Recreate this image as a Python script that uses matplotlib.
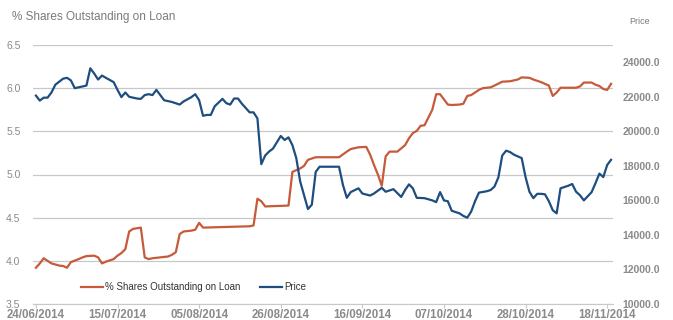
import numpy as np
import matplotlib
matplotlib.use("Agg")
import matplotlib.pyplot as plt
import matplotlib.dates as mdates
from matplotlib.ticker import FormatStrFormatter

plt.rcParams['font.family'] = ['Liberation Sans', 'DejaVu Sans']

start = np.datetime64('2014-06-24')

# % of shares outstanding on loan (left axis), days counted from 24/06/2014
loan_days = [0, 1, 2, 3, 4, 6, 7, 8, 9, 11, 12, 13, 15, 16, 17, 18, 20, 21, 22, 23,
             24, 25, 27, 28, 29, 30, 32, 34, 35, 36, 37, 38, 40, 41, 42, 43, 55, 56, 57, 58,
             59, 65, 66, 67, 68, 69, 70, 72, 78, 80, 81, 83, 85, 86, 87, 88, 89, 90, 91, 93,
             95, 96, 97, 98, 99, 100, 102, 103, 104, 106, 107, 109, 110, 111, 112, 114, 115, 117, 118, 120,
             122, 124, 125, 127, 128, 130, 132, 133, 134, 135, 139, 140, 141, 143, 144, 145, 146, 147, 148]
loan_pct = [3.92, 3.97, 4.03, 4.00, 3.97, 3.945, 3.94, 3.92, 3.985, 4.02, 4.04, 4.055, 4.06, 4.04, 3.97, 3.99, 4.02, 4.06, 4.09, 4.135,
            4.34, 4.37, 4.385, 4.04, 4.02, 4.03, 4.04, 4.05, 4.07, 4.10, 4.31, 4.34, 4.35, 4.36, 4.44, 4.385, 4.40, 4.41, 4.72, 4.69,
            4.63, 4.64, 5.03, 5.05, 5.07, 5.10, 5.17, 5.20, 5.20, 5.265, 5.295, 5.315, 5.32, 5.23, 5.11, 5.00, 4.87, 5.21, 5.265, 5.265,
            5.34, 5.42, 5.48, 5.505, 5.565, 5.57, 5.75, 5.93, 5.93, 5.81, 5.805, 5.81, 5.82, 5.91, 5.92, 5.98, 6.00, 6.01, 6.03, 6.075,
            6.08, 6.10, 6.125, 6.12, 6.10, 6.07, 6.03, 5.91, 5.95, 6.005, 6.005, 6.02, 6.065, 6.065, 6.04, 6.025, 5.99, 5.98, 6.05]

# share price (right axis)
price_days = [0, 1, 2, 3, 4, 5, 7, 8, 9, 10, 11, 13, 14, 15, 16, 17, 18, 20, 21, 22,
              23, 24, 26, 27, 28, 29, 30, 31, 32, 33, 35, 37, 38, 40, 41, 42, 43, 44, 45, 46,
              48, 49, 50, 51, 52, 53, 54, 55, 56, 57, 58, 59, 60, 61, 63, 64, 65, 66, 67, 68,
              69, 70, 71, 72, 73, 78, 79, 80, 81, 83, 84, 86, 87, 89, 90, 92, 94, 95, 96, 97,
              98, 100, 102, 103, 104, 105, 106, 107, 109, 110, 111, 112, 113, 114, 116, 117, 118, 119, 120, 121,
              122, 123, 125, 126, 127, 128, 129, 130, 131, 132, 133, 134, 135, 137, 138, 139, 140, 141, 143, 144,
              145, 146, 147, 148]
price = [22070, 21780, 21950, 21950, 22250, 22700, 23050, 23100, 22950, 22500, 22550, 22650, 23650, 23350, 23000, 23230, 23100, 22850, 22400, 21980,
         22250, 22000, 21900, 21880, 22100, 22150, 22100, 22400, 22100, 21800, 21700, 21550, 21730, 21980, 22150, 21800, 20900, 20950, 20950, 21450,
         21880, 21630, 21550, 21900, 21900, 21600, 21350, 21100, 21100, 20750, 18100, 18600, 18830, 19000, 19730, 19500, 19650, 19200, 18450, 17100,
         16300, 15500, 15750, 17650, 17950, 17950, 16900, 16150, 16480, 16700, 16400, 16280, 16400, 16730, 16500, 16650, 16200, 16600, 16930, 16700,
         16150, 16130, 16000, 15900, 16480, 16000, 15950, 15400, 15250, 15100, 15000, 15350, 15950, 16450, 16530, 16600, 16800, 17330, 18600, 18880,
         18800, 18650, 18450, 17350, 16500, 16130, 16380, 16380, 16350, 15950, 15430, 15250, 16700, 16850, 16950, 16500, 16300, 16000, 16480, 17000,
         17550, 17350, 18050, 18350]

tick_days = [0, 21, 42, 63, 84, 105, 126, 147]

RED = '#C65A3A'
BLUE = '#1E4D80'
GRID = '#C8C8C8'
TXT = '#8A8A8A'

day = np.timedelta64(1, 'D')
loan_x = start + np.array(loan_days) * day
price_x = start + np.array(price_days) * day

fig = plt.figure(figsize=(6.73, 3.20), dpi=100)
ax = fig.add_axes([33 / 673, 16 / 320, 580 / 673, 259 / 320])
ax2 = ax.twinx()

l1, = ax.plot(loan_x, loan_pct, color=RED, lw=1.6, label='% Shares Outstanding on Loan')
l2, = ax2.plot(price_x, price, color=BLUE, lw=1.6, label='Price')

ax.set_ylim(3.5, 6.5)
ax.set_yticks(np.arange(3.5, 6.51, 0.5))
ax.yaxis.set_major_formatter(FormatStrFormatter('%.1f'))
ax2.set_ylim(10000, 25000)
ax2.set_yticks(np.arange(10000, 24001, 2000))
ax2.yaxis.set_major_formatter(FormatStrFormatter('%.1f'))

x0 = start - np.timedelta64(18, 'h')
x1 = start + np.timedelta64(148 * 24 + 12, 'h')
ax.set_xlim(x0, x1)
ax.set_xticks(start + np.array(tick_days) * day)
ax.xaxis.set_major_formatter(mdates.DateFormatter('%d/%m/%Y'))

ax.grid(axis='y', color=GRID, lw=0.9)
ax.set_axisbelow(True)
for a in (ax, ax2):
    for s in a.spines.values():
        s.set_visible(False)
ax.spines['bottom'].set_visible(True)
ax.spines['bottom'].set_color(GRID)

ax.tick_params(axis='y', length=0, pad=9, labelsize=7.5, labelcolor=TXT)
ax2.tick_params(axis='y', length=0, pad=7, labelsize=7.5, labelcolor=TXT)
for t in ax2.get_yticklabels():
    t.set_fontweight('bold')
ax.tick_params(axis='x', length=3, color=GRID, pad=0.5, labelsize=8.3, labelcolor=TXT)
for t in ax.get_xticklabels():
    t.set_fontweight('bold')

fig.text(12 / 673, 1 - 17 / 320, '% Shares Outstanding on Loan', fontsize=8.5,
         color='#7A7A7A', va='center', ha='left')
fig.text(640 / 673, 1 - 22 / 320, 'Price', fontsize=6.5, color='#7A7A7A',
         va='center', ha='center')

fig.legend(handles=[l1, l2], loc='center left', bbox_to_anchor=(72 / 673, 1 - 287 / 320),
           ncol=2, frameon=False, fontsize=7, handlelength=2.3, handletextpad=0.2,
           columnspacing=2.0, labelcolor='#333333')

fig.savefig('out.png', dpi=100)
